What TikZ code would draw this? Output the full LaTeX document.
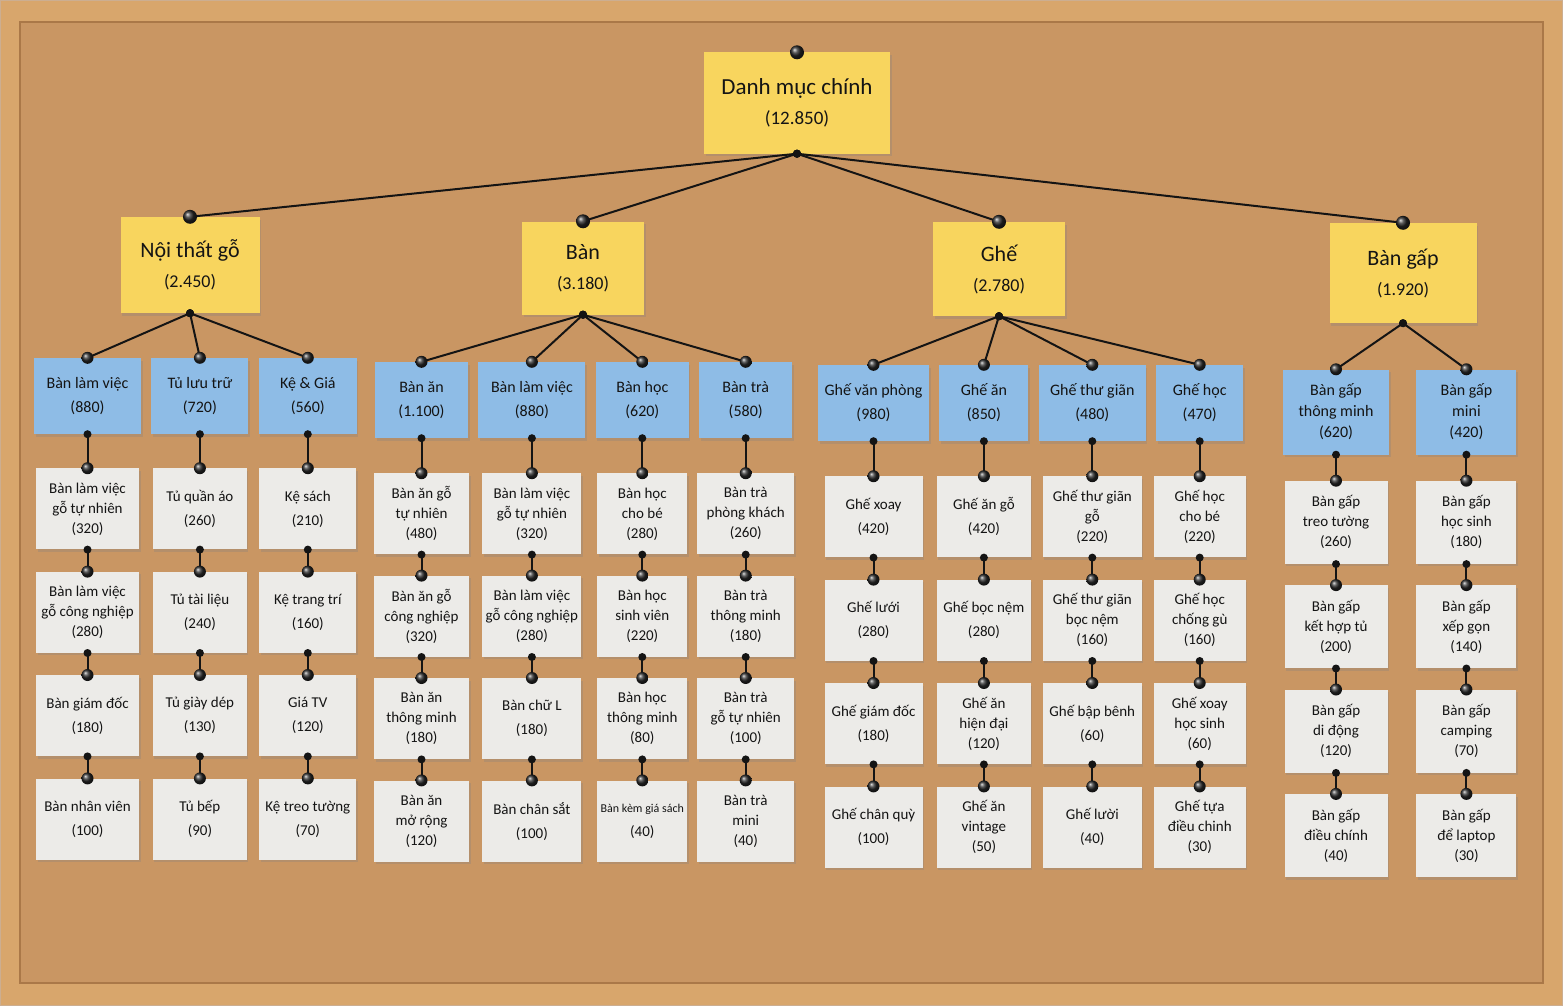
\documentclass[tikz,border=0pt]{standalone}
\usepackage{fontspec}
\setmainfont{Carlito}
\usepackage{xcolor}
\usepackage{tikz}
\usetikzlibrary{positioning, shadows}
\definecolor{cork}{RGB}{201,150,99}
\definecolor{wood}{RGB}{216,166,108}
\definecolor{woodedge}{RGB}{170,120,72}
\definecolor{noteyellow}{RGB}{248,213,94}
\definecolor{noteblue}{RGB}{142,188,230}
\definecolor{notegray}{RGB}{236,235,232}
\definecolor{ink}{RGB}{20,20,20}
\newcommand{\tally}[1]{{\fontsize{18}{22}\selectfont(#1)}}
\tikzset{
  note/.style={rectangle, inner sep=2pt, align=center, text=ink, drop shadow={shadow xshift=1.5pt, shadow yshift=-2.5pt, opacity=0.28}},
  catnote/.style={note, fill=noteyellow, font=\fontsize{22}{30}\selectfont},
  subnote/.style={note, fill=noteblue, minimum height=76pt, font=\fontsize{16}{21}\selectfont},
  leafnote/.style={note, fill=notegray, minimum width=#1, minimum height=81pt, font=\fontsize{15}{20}\selectfont},
  leafnote/.default=96pt,
  string/.style={line width=2pt, draw=ink, line cap=round},
  tack/.style={circle, inner sep=0pt, minimum size=12pt, shading=ball, ball color=black!85},
  bigtack/.style={tack, minimum size=14pt},
  knot/.style={circle, inner sep=0pt, minimum size=8pt, fill=ink},
}

\begin{document}
\begin{tikzpicture}[x=1pt, y=-1pt]
    \useasboundingbox (0,0) rectangle (1563,1006);
    \fill[wood] (0,0) rectangle (1563,1006);
    \draw[woodedge!60, line width=1pt] (0.5,0.5) rectangle (1562.5,1005.5);
    \fill[cork] (20,22) rectangle (1543,983);
    \draw[woodedge, line width=1.5pt] (20,22) rectangle (1543,983);

    % root and main categories
    \node[catnote, minimum width=186pt, minimum height=101pt, font=\fontsize{23}{30}\selectfont] (root) at (797,103) {Danh mục chính\\{\fontsize{19}{23}\selectfont(12.850)}};
    \node[catnote, minimum width=139pt, minimum height=96pt] (nt) at (190,265) {Nội thất gỗ\\\tally{2.450}};
    \node[catnote, minimum width=122pt, minimum height=93pt] (ban) at (583,268) {Bàn\\\tally{3.180}};
    \node[catnote, minimum width=132pt, minimum height=94pt] (ghe) at (999,269) {Ghế\\\tally{2.780}};
    \node[catnote, minimum width=147pt, minimum height=100pt] (bg) at (1403,273) {Bàn gấp\\\tally{1.920}};

    % sub categories
    \node[subnote, minimum width=107pt] (ntA) at (87.5,396) {Bàn làm việc\\[3pt](880)};
    \node[subnote, minimum width=97pt, right=10pt of ntA] (ntB) {Tủ lưu trữ\\[3pt](720)};
    \node[subnote, minimum width=98pt, right=10pt of ntB] (ntC) {Kệ \& Giá\\[3pt](560)};
    \node[subnote, minimum width=93pt] (banA) at (421.5,400) {Bàn ăn\\[3pt](1.100)};
    \node[subnote, minimum width=107pt, right=10pt of banA] (banB) {Bàn làm việc\\[3pt](880)};
    \node[subnote, minimum width=93pt, right=10pt of banB] (banC) {Bàn học\\[3pt](620)};
    \node[subnote, minimum width=93pt, right=10pt of banC] (banD) {Bàn trà\\[3pt](580)};
    \node[subnote, minimum width=111pt] (gheA) at (873.5,403) {Ghế văn phòng\\[3pt](980)};
    \node[subnote, minimum width=89pt, right=10pt of gheA] (gheB) {Ghế ăn\\[3pt](850)};
    \node[subnote, minimum width=107pt, right=10pt of gheB] (gheC) {Ghế thư giãn\\[3pt](480)};
    \node[subnote, minimum width=87pt, right=10pt of gheC] (gheD) {Ghế học\\[3pt](470)};
    \node[subnote, minimum width=106pt, minimum height=85pt] (bgA) at (1336,412) {Bàn gấp\\thông minh\\(620)};
    \node[subnote, minimum width=100pt, minimum height=85pt, right=27pt of bgA] (bgB) {Bàn gấp\\mini\\(420)};

    % products
    \node[leafnote=103pt, below=34pt of ntA] (ntA1) {Bàn làm việc\\gỗ tự nhiên\\(320)};
    \node[leafnote=103pt, below=22pt of ntA1] (ntA2) {Bàn làm việc\\gỗ công nghiệp\\(280)};
    \node[leafnote=103pt, below=22pt of ntA2] (ntA3) {Bàn giám đốc\\[4pt](180)};
    \node[leafnote=103pt, below=22pt of ntA3] (ntA4) {Bàn nhân viên\\[4pt](100)};
    \node[leafnote=94pt, below=34pt of ntB] (ntB1) {Tủ quần áo\\[4pt](260)};
    \node[leafnote=94pt, below=22pt of ntB1] (ntB2) {Tủ tài liệu\\[4pt](240)};
    \node[leafnote=94pt, below=22pt of ntB2] (ntB3) {Tủ giày dép\\[4pt](130)};
    \node[leafnote=94pt, below=22pt of ntB3] (ntB4) {Tủ bếp\\[4pt](90)};
    \node[leafnote=97pt, below=34pt of ntC] (ntC1) {Kệ sách\\[4pt](210)};
    \node[leafnote=97pt, below=22pt of ntC1] (ntC2) {Kệ trang trí\\[4pt](160)};
    \node[leafnote=97pt, below=22pt of ntC2] (ntC3) {Giá TV\\[4pt](120)};
    \node[leafnote=97pt, below=22pt of ntC3] (ntC4) {Kệ treo tường\\[4pt](70)};

    \node[leafnote=95pt, below=35pt of banA] (banA1) {Bàn ăn gỗ\\tự nhiên\\(480)};
    \node[leafnote=95pt, below=21pt of banA1] (banA2) {Bàn ăn gỗ\\công nghiệp\\(320)};
    \node[leafnote=95pt, below=21pt of banA2] (banA3) {Bàn ăn\\thông minh\\(180)};
    \node[leafnote=95pt, below=21pt of banA3] (banA4) {Bàn ăn\\mở rộng\\(120)};
    \node[leafnote=99pt, below=35pt of banB] (banB1) {Bàn làm việc\\gỗ tự nhiên\\(320)};
    \node[leafnote=99pt, below=21pt of banB1] (banB2) {Bàn làm việc\\gỗ công nghiệp\\(280)};
    \node[leafnote=99pt, below=21pt of banB2] (banB3) {Bàn chữ L\\[4pt](180)};
    \node[leafnote=99pt, below=21pt of banB3] (banB4) {Bàn chân sắt\\[4pt](100)};
    \node[leafnote=90pt, below=35pt of banC] (banC1) {Bàn học\\cho bé\\(280)};
    \node[leafnote=90pt, below=21pt of banC1] (banC2) {Bàn học\\sinh viên\\(220)};
    \node[leafnote=90pt, below=21pt of banC2] (banC3) {Bàn học\\thông minh\\(80)};
    \node[leafnote=90pt, below=21pt of banC3] (banC4) {{\fontsize{12}{16}\selectfont Bàn kèm giá sách}\\[4pt](40)};
    \node[leafnote=97pt, below=35pt of banD] (banD1) {Bàn trà\\phòng khách\\(260)};
    \node[leafnote=97pt, below=21pt of banD1] (banD2) {Bàn trà\\thông minh\\(180)};
    \node[leafnote=97pt, below=21pt of banD2] (banD3) {Bàn trà\\gỗ tự nhiên\\(100)};
    \node[leafnote=97pt, below=21pt of banD3] (banD4) {Bàn trà\\mini\\(40)};

    \node[leafnote=98pt, below=35pt of gheA] (gheA1) {Ghế xoay\\[4pt](420)};
    \node[leafnote=98pt, below=22pt of gheA1] (gheA2) {Ghế lưới\\[4pt](280)};
    \node[leafnote=98pt, below=22pt of gheA2] (gheA3) {Ghế giám đốc\\[4pt](180)};
    \node[leafnote=98pt, below=22pt of gheA3] (gheA4) {Ghế chân quỳ\\[4pt](100)};
    \node[leafnote=94pt, below=35pt of gheB] (gheB1) {Ghế ăn gỗ\\[4pt](420)};
    \node[leafnote=94pt, below=22pt of gheB1] (gheB2) {Ghế bọc nệm\\[4pt](280)};
    \node[leafnote=94pt, below=22pt of gheB2] (gheB3) {Ghế ăn\\hiện đại\\(120)};
    \node[leafnote=94pt, below=22pt of gheB3] (gheB4) {Ghế ăn\\vintage\\(50)};
    \node[leafnote=99pt, below=35pt of gheC] (gheC1) {Ghế thư giãn\\gỗ\\(220)};
    \node[leafnote=99pt, below=22pt of gheC1] (gheC2) {Ghế thư giãn\\bọc nệm\\(160)};
    \node[leafnote=99pt, below=22pt of gheC2] (gheC3) {Ghế bập bênh\\[4pt](60)};
    \node[leafnote=99pt, below=22pt of gheC3] (gheC4) {Ghế lười\\[4pt](40)};
    \node[leafnote=92pt, below=35pt of gheD] (gheD1) {Ghế học\\cho bé\\(220)};
    \node[leafnote=92pt, below=22pt of gheD1] (gheD2) {Ghế học\\chống gù\\(160)};
    \node[leafnote=92pt, below=22pt of gheD2] (gheD3) {Ghế xoay\\học sinh\\(60)};
    \node[leafnote=92pt, below=22pt of gheD3] (gheD4) {Ghế tựa\\điều chinh\\(30)};

    \node[leafnote=103pt, minimum height=83pt, below=26pt of bgA] (bgA1) {Bàn gấp\\treo tường\\(260)};
    \node[leafnote=103pt, minimum height=83pt, below=21pt of bgA1] (bgA2) {Bàn gấp\\kết hợp tủ\\(200)};
    \node[leafnote=103pt, minimum height=83pt, below=21pt of bgA2] (bgA3) {Bàn gấp\\di động\\(120)};
    \node[leafnote=103pt, minimum height=83pt, below=21pt of bgA3] (bgA4) {Bàn gấp\\điều chính\\(40)};
    \node[leafnote=100pt, minimum height=83pt, below=26pt of bgB] (bgB1) {Bàn gấp\\học sinh\\(180)};
    \node[leafnote=100pt, minimum height=83pt, below=21pt of bgB1] (bgB2) {Bàn gấp\\xếp gọn\\(140)};
    \node[leafnote=100pt, minimum height=83pt, below=21pt of bgB2] (bgB3) {Bàn gấp\\camping\\(70)};
    \node[leafnote=100pt, minimum height=83pt, below=21pt of bgB3] (bgB4) {Bàn gấp\\để laptop\\(30)};

    % strings and pins
    \node[bigtack] (rootpin) at (root.north) {};
    \draw[string] (root.south) node[knot]{} -- (nt.north) node[bigtack]{};
    \draw[string] (root.south) node[knot]{} -- (ban.north) node[bigtack]{};
    \draw[string] (root.south) node[knot]{} -- (ghe.north) node[bigtack]{};
    \draw[string] (root.south) node[knot]{} -- (bg.north) node[bigtack]{};

    \draw[string] (nt.south) node[knot]{} -- (ntA.north) node[tack]{};
    \draw[string] (nt.south) node[knot]{} -- (ntB.north) node[tack]{};
    \draw[string] (nt.south) node[knot]{} -- (ntC.north) node[tack]{};
    \draw[string] (ban.south) node[knot]{} -- (banA.north) node[tack]{};
    \draw[string] (ban.south) node[knot]{} -- (banB.north) node[tack]{};
    \draw[string] (ban.south) node[knot]{} -- (banC.north) node[tack]{};
    \draw[string] (ban.south) node[knot]{} -- (banD.north) node[tack]{};
    \draw[string] (ghe.south) node[knot]{} -- (gheA.north) node[tack]{};
    \draw[string] (ghe.south) node[knot]{} -- (gheB.north) node[tack]{};
    \draw[string] (ghe.south) node[knot]{} -- (gheC.north) node[tack]{};
    \draw[string] (ghe.south) node[knot]{} -- (gheD.north) node[tack]{};
    \draw[string] (bg.south) node[knot]{} -- (bgA.north) node[tack]{};
    \draw[string] (bg.south) node[knot]{} -- (bgB.north) node[tack]{};

    \draw[string] (ntA.south) node[knot]{} -- (ntA1.north) node[tack]{};
    \draw[string] (ntA1.south) node[knot]{} -- (ntA2.north) node[tack]{};
    \draw[string] (ntA2.south) node[knot]{} -- (ntA3.north) node[tack]{};
    \draw[string] (ntA3.south) node[knot]{} -- (ntA4.north) node[tack]{};
    \draw[string] (ntB.south) node[knot]{} -- (ntB1.north) node[tack]{};
    \draw[string] (ntB1.south) node[knot]{} -- (ntB2.north) node[tack]{};
    \draw[string] (ntB2.south) node[knot]{} -- (ntB3.north) node[tack]{};
    \draw[string] (ntB3.south) node[knot]{} -- (ntB4.north) node[tack]{};
    \draw[string] (ntC.south) node[knot]{} -- (ntC1.north) node[tack]{};
    \draw[string] (ntC1.south) node[knot]{} -- (ntC2.north) node[tack]{};
    \draw[string] (ntC2.south) node[knot]{} -- (ntC3.north) node[tack]{};
    \draw[string] (ntC3.south) node[knot]{} -- (ntC4.north) node[tack]{};

    \draw[string] (banA.south) node[knot]{} -- (banA1.north) node[tack]{};
    \draw[string] (banA1.south) node[knot]{} -- (banA2.north) node[tack]{};
    \draw[string] (banA2.south) node[knot]{} -- (banA3.north) node[tack]{};
    \draw[string] (banA3.south) node[knot]{} -- (banA4.north) node[tack]{};
    \draw[string] (banB.south) node[knot]{} -- (banB1.north) node[tack]{};
    \draw[string] (banB1.south) node[knot]{} -- (banB2.north) node[tack]{};
    \draw[string] (banB2.south) node[knot]{} -- (banB3.north) node[tack]{};
    \draw[string] (banB3.south) node[knot]{} -- (banB4.north) node[tack]{};
    \draw[string] (banC.south) node[knot]{} -- (banC1.north) node[tack]{};
    \draw[string] (banC1.south) node[knot]{} -- (banC2.north) node[tack]{};
    \draw[string] (banC2.south) node[knot]{} -- (banC3.north) node[tack]{};
    \draw[string] (banC3.south) node[knot]{} -- (banC4.north) node[tack]{};
    \draw[string] (banD.south) node[knot]{} -- (banD1.north) node[tack]{};
    \draw[string] (banD1.south) node[knot]{} -- (banD2.north) node[tack]{};
    \draw[string] (banD2.south) node[knot]{} -- (banD3.north) node[tack]{};
    \draw[string] (banD3.south) node[knot]{} -- (banD4.north) node[tack]{};

    \draw[string] (gheA.south) node[knot]{} -- (gheA1.north) node[tack]{};
    \draw[string] (gheA1.south) node[knot]{} -- (gheA2.north) node[tack]{};
    \draw[string] (gheA2.south) node[knot]{} -- (gheA3.north) node[tack]{};
    \draw[string] (gheA3.south) node[knot]{} -- (gheA4.north) node[tack]{};
    \draw[string] (gheB.south) node[knot]{} -- (gheB1.north) node[tack]{};
    \draw[string] (gheB1.south) node[knot]{} -- (gheB2.north) node[tack]{};
    \draw[string] (gheB2.south) node[knot]{} -- (gheB3.north) node[tack]{};
    \draw[string] (gheB3.south) node[knot]{} -- (gheB4.north) node[tack]{};
    \draw[string] (gheC.south) node[knot]{} -- (gheC1.north) node[tack]{};
    \draw[string] (gheC1.south) node[knot]{} -- (gheC2.north) node[tack]{};
    \draw[string] (gheC2.south) node[knot]{} -- (gheC3.north) node[tack]{};
    \draw[string] (gheC3.south) node[knot]{} -- (gheC4.north) node[tack]{};
    \draw[string] (gheD.south) node[knot]{} -- (gheD1.north) node[tack]{};
    \draw[string] (gheD1.south) node[knot]{} -- (gheD2.north) node[tack]{};
    \draw[string] (gheD2.south) node[knot]{} -- (gheD3.north) node[tack]{};
    \draw[string] (gheD3.south) node[knot]{} -- (gheD4.north) node[tack]{};

    \draw[string] (bgA.south) node[knot]{} -- (bgA1.north) node[tack]{};
    \draw[string] (bgA1.south) node[knot]{} -- (bgA2.north) node[tack]{};
    \draw[string] (bgA2.south) node[knot]{} -- (bgA3.north) node[tack]{};
    \draw[string] (bgA3.south) node[knot]{} -- (bgA4.north) node[tack]{};
    \draw[string] (bgB.south) node[knot]{} -- (bgB1.north) node[tack]{};
    \draw[string] (bgB1.south) node[knot]{} -- (bgB2.north) node[tack]{};
    \draw[string] (bgB2.south) node[knot]{} -- (bgB3.north) node[tack]{};
    \draw[string] (bgB3.south) node[knot]{} -- (bgB4.north) node[tack]{};
\end{tikzpicture}
\end{document}
